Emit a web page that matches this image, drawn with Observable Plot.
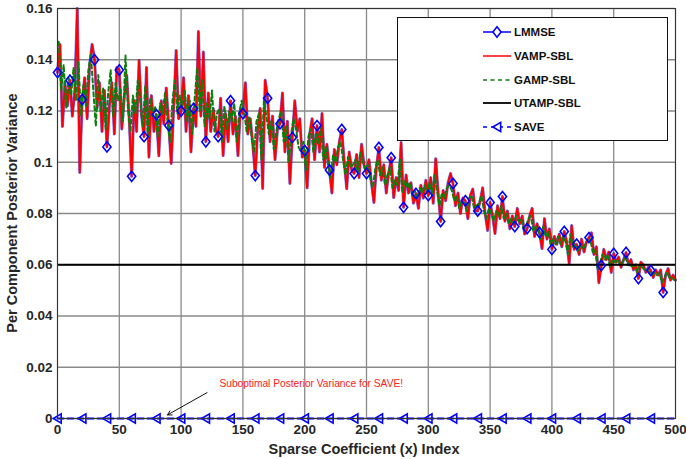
<!DOCTYPE html>
<html>
<head>
<meta charset="utf-8">
<script src="https://cdn.jsdelivr.net/npm/d3@7"></script>
<script src="https://cdn.jsdelivr.net/npm/@observablehq/plot@0.6"></script>
<style>
  html, body { margin: 0; padding: 0; background: #fff; }
  #chart { position: relative; width: 686px; height: 459px; }
</style>
</head>
<body>
<div id="chart"></div>
<script>
// ---- Data ----
const xTicks = [0, 50, 100, 150, 200, 250, 300, 350, 400, 450, 500];
const yTicks = [0, 0.02, 0.04, 0.06, 0.08, 0.1, 0.12, 0.14, 0.16];
const seriesNames = ["LMMSE", "VAMP-SBL", "GAMP-SBL", "UTAMP-SBL", "SAVE"];

// VAMP-SBL (and LMMSE, which coincides) at indices 0,2,4,...,500
const vampSbl = [
  0.135,0.146,0.114,0.131,0.122,0.132,0.118,0.128,0.160,0.096,
  0.1245,0.133,0.117,0.138,0.146,0.140,0.121,0.131,0.112,0.128,
  0.106,0.122,0.131,0.111,0.137,0.136,0.113,0.125,0.134,0.117,
  0.0945,0.124,0.112,0.1397,0.118,0.110,0.137,0.102,0.126,0.112,
  0.1186,0.1025,0.124,0.115,0.129,0.1143,0.0995,0.121,0.1436,0.117,
  0.120,0.133,0.112,0.126,0.104,0.121,0.114,0.151,0.118,0.143,
  0.108,0.127,0.112,0.121,0.113,0.110,0.125,0.1026,0.119,0.108,
  0.124,0.111,0.118,0.1026,0.121,0.119,0.131,0.111,0.117,0.107,
  0.0948,0.113,0.121,0.0898,0.132,0.125,0.108,0.118,0.101,0.113,
  0.115,0.127,0.104,0.116,0.0917,0.1097,0.124,0.112,0.117,0.102,
  0.1046,0.090,0.111,0.117,0.101,0.1143,0.104,0.119,0.098,0.107,
  0.097,0.088,0.105,0.099,0.108,0.1128,0.100,0.0897,0.104,0.097,
  0.0956,0.103,0.094,0.107,0.099,0.0956,0.101,0.092,0.0843,0.098,
  0.1058,0.093,0.099,0.088,0.096,0.1018,0.0862,0.094,0.089,0.1077,
  0.0824,0.095,0.088,0.092,0.084,0.0878,0.082,0.091,0.086,0.093,
  0.087,0.094,0.084,0.1014,0.088,0.0769,0.089,0.085,0.092,0.0956,
  0.0917,0.083,0.088,0.080,0.086,0.085,0.078,0.087,0.0895,0.081,
  0.081,0.085,0.090,0.080,0.0734,0.0843,0.079,0.0722,0.083,0.078,
  0.0866,0.077,0.081,0.074,0.079,0.0749,0.082,0.076,0.079,0.072,
  0.0741,0.079,0.082,0.071,0.076,0.0726,0.0663,0.078,0.070,0.074,
  0.066,0.071,0.068,0.072,0.067,0.073,0.069,0.0605,0.0753,0.066,
  0.068,0.064,0.070,0.065,0.069,0.0706,0.0725,0.064,0.067,0.053,
  0.0597,0.066,0.062,0.065,0.057,0.0644,0.061,0.063,0.059,0.062,
  0.0648,0.060,0.062,0.058,0.060,0.0546,0.061,0.060,0.057,0.059,
  0.0578,0.055,0.058,0.056,0.058,0.0492,0.056,0.0585,0.054,0.056,
  0.054
];

// GAMP-SBL at indices 1,3,5,...,499
const gampSbl = [
  0.147,0.128,0.138,0.121,0.133,0.126,0.137,0.124,0.139,0.118,
  0.130,0.122,0.136,0.142,0.128,0.114,0.134,0.120,0.129,0.113,
  0.127,0.136,0.118,0.131,0.124,0.129,0.116,0.1417,0.121,0.112,
  0.126,0.119,0.132,0.124,0.114,0.130,0.110,0.125,0.118,0.122,
  0.110,0.123,0.119,0.127,0.116,0.108,0.124,0.132,0.119,0.126,
  0.121,0.128,0.116,0.124,0.111,0.125,0.137,0.120,0.132,0.114,
  0.123,0.117,0.128,0.112,0.119,0.121,0.108,0.122,0.113,0.120,
  0.116,0.123,0.108,0.119,0.124,0.120,0.112,0.118,0.110,0.104,
  0.116,0.119,0.101,0.124,0.118,0.111,0.116,0.105,0.112,0.117,
  0.120,0.108,0.114,0.100,0.111,0.117,0.113,0.106,0.104,0.108,
  0.097,0.110,0.113,0.104,0.111,0.107,0.114,0.101,0.106,0.099,
  0.094,0.103,0.100,0.106,0.108,0.101,0.095,0.102,0.098,0.099,
  0.101,0.096,0.104,0.100,0.097,0.099,0.094,0.090,0.097,0.101,
  0.095,0.098,0.091,0.095,0.098,0.090,0.093,0.091,0.101,0.088,
  0.093,0.090,0.092,0.087,0.089,0.086,0.090,0.088,0.091,0.088,
  0.092,0.087,0.095,0.089,0.083,0.088,0.086,0.090,0.091,0.089,
  0.085,0.087,0.082,0.085,0.084,0.081,0.086,0.087,0.082,0.083,
  0.084,0.087,0.081,0.078,0.082,0.080,0.077,0.081,0.079,0.083,
  0.078,0.080,0.076,0.078,0.076,0.079,0.077,0.078,0.074,0.075,
  0.078,0.079,0.073,0.075,0.073,0.070,0.075,0.071,0.073,0.068,
  0.070,0.068,0.071,0.068,0.071,0.069,0.064,0.072,0.067,0.068,
  0.065,0.068,0.066,0.068,0.069,0.070,0.065,0.066,0.058,0.061,
  0.064,0.062,0.064,0.059,0.062,0.061,0.062,0.060,0.061,0.063,
  0.061,0.060,0.059,0.060,0.057,0.060,0.059,0.058,0.058,0.057,
  0.056,0.057,0.056,0.057,0.053,0.055,0.057,0.055,0.055,0.054
];

const utampLevel = [0.06];
const saveLevel = [0];
const lmmseMarkerStep = 10;   // every 10th index
const saveMarkerIdx = [0,20,40,60,80,100,120,140,160,180,200,220,240,260,280,300,320,340,360,380,400,420,440,460,480];
const annotationText = ["Suboptimal Posterior Variance for SAVE!"];
const annotationPos = [{x: 131, y: 0.0137}];
const arrowPos = [{x1: 121, y1: 0.0101, x2: 89, y2: 0.0014}];

// ---- Tables built from the arrays ----
const vampData = vampSbl.map((v, i) => ({x: i * 2, y: v}));
const gampData = gampSbl.map((v, i) => ({x: i * 2 + 1, y: v}));
const lmmseMarkers = vampData.filter(d => d.x % lmmseMarkerStep === 0 && d.x < 500);
const saveLine = [{x: 0, y: saveLevel[0]}, {x: 500, y: saveLevel[0]}];
const saveMarkers = saveMarkerIdx.map(x => ({x, y: saveLevel[0]}));

const diamond = {
  draw(ctx, size) {
    const r = Math.sqrt(size / Math.PI);
    ctx.moveTo(0, -r * 1.2); ctx.lineTo(r * 0.95, 0); ctx.lineTo(0, r * 1.2); ctx.lineTo(-r * 0.95, 0); ctx.closePath();
  }
};
const triLeft = {
  draw(ctx, size) {
    const r = Math.sqrt(size / Math.PI);
    ctx.moveTo(-r * 0.9, 0); ctx.lineTo(r * 0.8, -r); ctx.lineTo(r * 0.8, r); ctx.closePath();
  }
};

const BLUE = "#0000ff", RED = "#ff0000", GREEN = "#0a800a", BLACK = "#000000";

const plot = Plot.plot({
  width: 686,
  height: 459,
  marginLeft: 57,
  marginRight: 11,
  marginTop: 8,
  marginBottom: 41,
  style: {fontFamily: "'Liberation Sans', Arial, sans-serif", fontWeight: "bold", fontSize: "13.5px", color: "#262626", background: "#fff"},
  x: {domain: [0, 500], label: null, ticks: xTicks},
  y: {domain: [0, 0.16], label: null, ticks: yTicks},
  marks: [
    Plot.gridX(xTicks, {stroke: "#8a8a8a", strokeOpacity: 1, strokeWidth: 1.3}),
    Plot.gridY(yTicks, {stroke: "#8a8a8a", strokeOpacity: 1, strokeWidth: 1.3}),
    Plot.axisX(xTicks, {tickSize: 0, tickPadding: 6, fontWeight: "bold", fontSize: 13.5, fill: "#262626"}),
    Plot.axisY(yTicks, {tickSize: 0, tickPadding: 5, fontWeight: "bold", fontSize: 13.5, fill: "#262626",
      tickFormat: d => String(+d.toFixed(2))}),
    Plot.line(vampData, {x: "x", y: "y", stroke: BLUE, strokeWidth: 3, strokeOpacity: 0.55}),
    Plot.line(vampData, {x: "x", y: "y", stroke: RED, strokeWidth: 2}),
    Plot.line(gampData, {x: "x", y: "y", stroke: GREEN, strokeWidth: 2, strokeDasharray: "4,3"}),
    Plot.ruleY(utampLevel, {stroke: BLACK, strokeWidth: 2}),
    Plot.line(saveLine, {x: "x", y: "y", stroke: BLUE, strokeWidth: 2, strokeDasharray: "6,4"}),
    Plot.dot(saveMarkers, {x: "x", y: "y", symbol: triLeft, r: 4.6, stroke: BLUE, strokeWidth: 1.6, fill: "none"}),
    Plot.dot(lmmseMarkers, {x: "x", y: "y", symbol: diamond, r: 4.3, stroke: BLUE, strokeWidth: 1.6, fill: "none"}),
    Plot.arrow(arrowPos, {x1: "x1", y1: "y1", x2: "x2", y2: "y2", stroke: "#111", strokeWidth: 1, headLength: 7, bend: 0}),
    Plot.text(annotationPos, {x: "x", y: "y", text: () => annotationText[0], textAnchor: "start", fill: "#ff2020",
      fontWeight: "normal", fontSize: 10.2}),
    Plot.frame({stroke: "#333", strokeWidth: 1})
  ]
});

document.getElementById("chart").appendChild(plot);

// Axis titles and legend (layout only)
const svg = d3.select(plot);
svg.append("text").attr("x", 364).attr("y", 454).attr("text-anchor", "middle")
  .attr("font-weight", "bold").attr("font-size", 14.5).attr("fill", "#262626")
  .text("Sparse Coefficient (x) Index");
svg.append("text").attr("transform", "translate(17,213) rotate(-90)").attr("text-anchor", "middle")
  .attr("font-weight", "bold").attr("font-size", 14.5).attr("fill", "#262626")
  .text("Per Component Posterior Variance");

const lg = svg.append("g");
lg.append("rect").attr("x", 397.5).attr("y", 17.5).attr("width", 270).attr("height", 123)
  .attr("fill", "#fff").attr("stroke", "#111").attr("stroke-width", 1);
const rows = [32, 56, 80, 103, 127];
const styles = [
  {stroke: BLUE, dash: null, w: 1.5},
  {stroke: RED, dash: null, w: 1.5},
  {stroke: GREEN, dash: "4,3.5", w: 1.5},
  {stroke: BLACK, dash: null, w: 1.8},
  {stroke: BLUE, dash: "4,4", w: 1.5}
];
seriesNames.forEach((name, i) => {
  const y = rows[i];
  const s = styles[i];
  const ln = lg.append("line").attr("x1", 483).attr("x2", 511).attr("y1", y).attr("y2", y)
    .attr("stroke", s.stroke).attr("stroke-width", s.w);
  if (s.dash) ln.attr("stroke-dasharray", s.dash);
  if (i === 0) {
    lg.append("path").attr("d", d3.symbol().type(diamond).size(Math.PI * 4.3 * 4.3)())
      .attr("transform", `translate(497,${y})`).attr("fill", "#fff").attr("stroke", BLUE).attr("stroke-width", 1.6);
  }
  if (i === 4) {
    lg.append("path").attr("d", d3.symbol().type(triLeft).size(Math.PI * 4.6 * 4.6)())
      .attr("transform", `translate(497,${y})`).attr("fill", "#fff").attr("stroke", BLUE).attr("stroke-width", 1.6);
  }
  lg.append("text").attr("x", 514).attr("y", y).attr("dy", "0.36em").attr("text-anchor", "start")
    .attr("font-weight", "bold").attr("font-size", 11.5).attr("fill", "#111").text(name);
});
</script>
</body>
</html>
